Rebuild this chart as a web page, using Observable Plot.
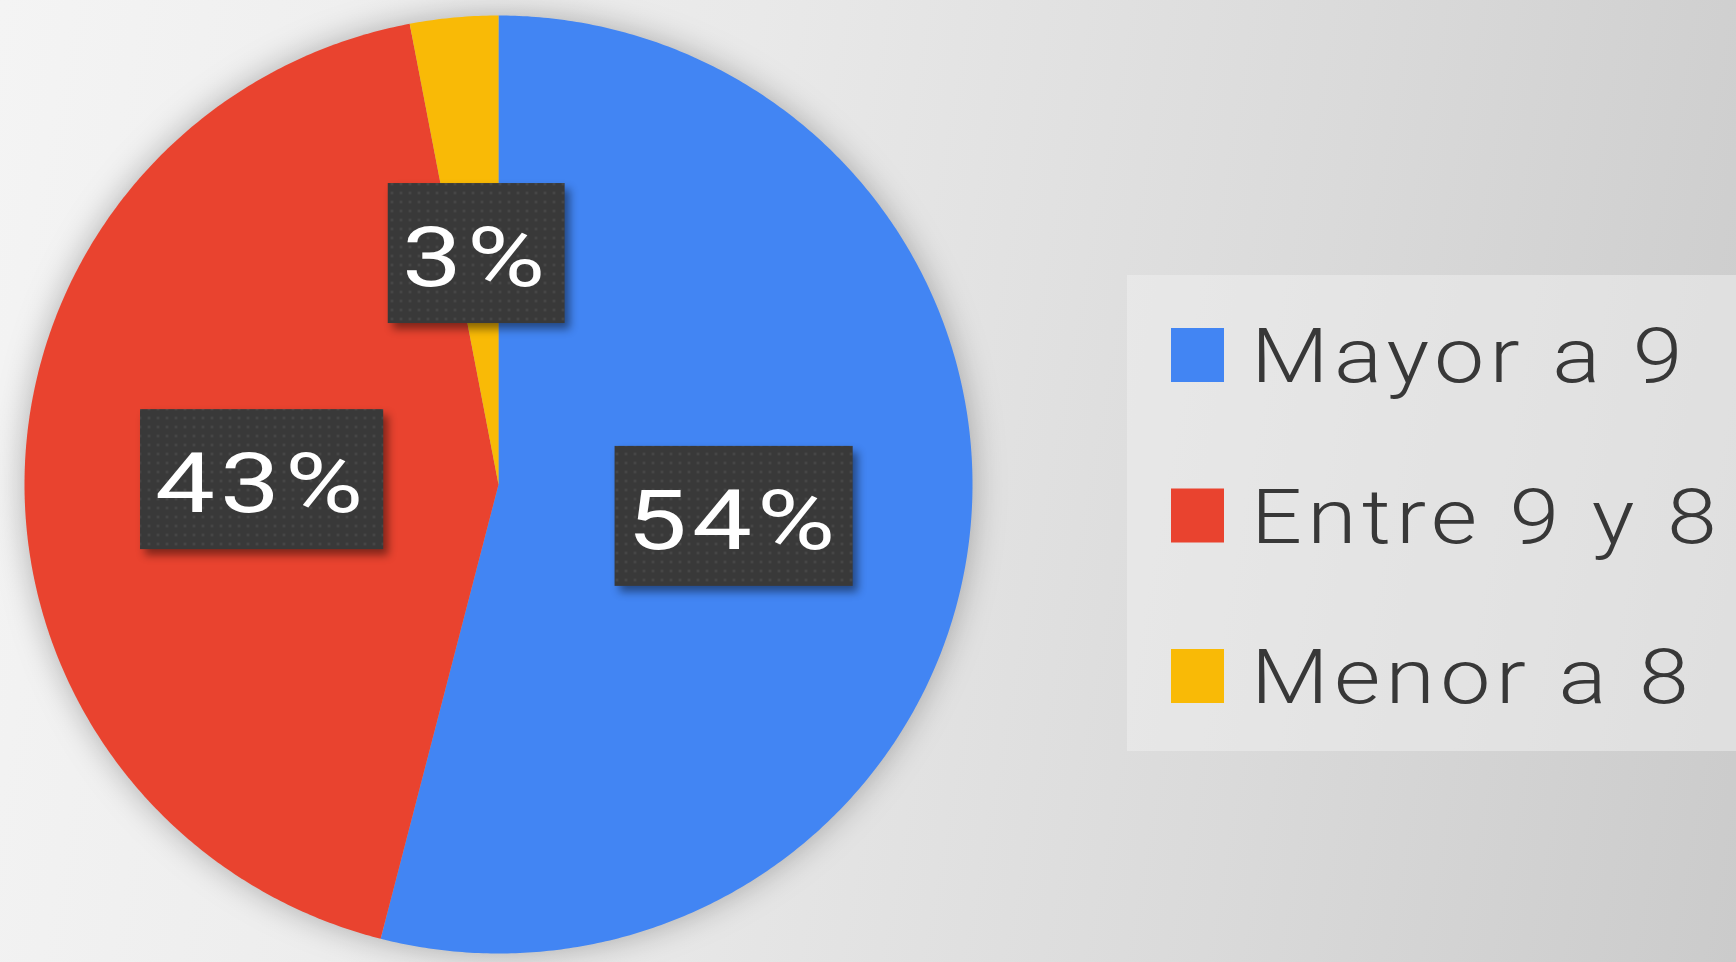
<!DOCTYPE html>
<html>
<head>
<meta charset="utf-8">
<script src="https://cdn.jsdelivr.net/npm/d3@7"></script>
<script src="https://cdn.jsdelivr.net/npm/@observablehq/plot@0.6"></script>
<style>
  html, body { margin: 0; padding: 0; }
  #stage {
    position: relative; width: 1736px; height: 962px; overflow: hidden;
    background: linear-gradient(100deg, #f4f4f4 0%, #e9e9e9 40%, #dadada 72%, #cbcbcb 100%);
    font-family: Roboto, "Open Sans", sans-serif;
  }
  #chart { position: absolute; left: 0; top: 0; }
  #legend { position: absolute; left: 0; top: 0; }
</style>
</head>
<body>
<div id="stage"><div id="chart"></div><svg id="legend" width="1736" height="962"></svg></div>
<script>
// ---- data ----
const categories = ["Mayor a 9", "Entre 9 y 8", "Menor a 8"];
const shares = [54, 43, 3];
const labels = ["54%", "43%", "3%"];
const palette = ["#4285f3", "#e9432f", "#f9ba06"];

const rows = categories.map((c, i) => ({category: c, share: shares[i], label: labels[i]}));
const arcs = d3.pie().sort(null).value(d => d.share)(rows);

// slice outlines (geometry derived from the pie angles)
const slicePts = [];
for (const a of arcs) {
  const n = Math.max(4, Math.ceil((a.endAngle - a.startAngle) / (Math.PI / 360)));
  slicePts.push({category: a.data.category, px: 0, py: 0});
  for (let k = 0; k <= n; k++) {
    const t = a.startAngle + (a.endAngle - a.startAngle) * k / n;
    slicePts.push({category: a.data.category, px: Math.sin(t), py: Math.cos(t)});
  }
  slicePts.push({category: a.data.category, px: 0, py: 0});
}
const labelPts = arcs.map(a => {
  const m = (a.startAngle + a.endAngle) / 2;
  return {category: a.data.category, label: a.data.label, px: 0.5 * Math.sin(m), py: 0.5 * Math.cos(m)};
});

const FONT = "Roboto";
const LABEL_SIZE = 84;
const LS = 4;          // letter spacing of labels
const SX = 1.27;       // horizontal stretch (wide geometric face)
const DY = 8;
const ctx = document.createElement("canvas").getContext("2d");
function inkWidth(s, size, ls, sx) {
  ctx.font = `${size}px ${FONT}`;
  const m = ctx.measureText(s);
  return ((m.actualBoundingBoxLeft + m.actualBoundingBoxRight) + ls * (s.length - 1)) * sx;
}

const chart = Plot.plot({
  width: 1736, height: 962,
  marginLeft: 24, marginRight: 764, marginTop: 15, marginBottom: 9,
  style: {background: "transparent", overflow: "visible"},
  x: {domain: [-1, 1], axis: null},
  y: {domain: [-1, 1], axis: null},
  color: {domain: categories, range: palette},
  marks: [
    Plot.line(slicePts, {x: "px", y: "py", z: "category", fill: "category", stroke: "none", curve: "linear"}),
    Plot.text(labelPts, {
      x: "px", y: "py", text: "label", fill: "white", fontSize: LABEL_SIZE, fontFamily: FONT, dy: DY,
      render(index, scales, values, dims, context, next) {
        const g = next(index, scales, values, dims, context);
        const boxes = d3.create("svg:g");
        for (const i of index) {
          const w = inkWidth(labelPts[i].label, LABEL_SIZE, LS, SX) + 42;
          const h = 140;
          boxes.append("rect")
            .attr("x", values.x[i] - w / 2).attr("y", values.y[i] + 2 - DY - h / 2)
            .attr("width", w).attr("height", h)
            .attr("fill", "url(#dots)")
            .style("filter", "drop-shadow(5px 6px 4px rgba(0,0,0,0.45))");
        }
        g.querySelectorAll("text").forEach(t => {
          const tr = t.getAttribute("transform") || "";
          t.setAttribute("transform", tr + ` scale(${SX},1)`);
        });
        g.insertBefore(boxes.node(), g.firstChild);
        g.setAttribute("letter-spacing", LS);
        return g;
      }
    })
  ]
});

// dotted texture for the label boxes and pie shadow
const svg = d3.select(chart);
const defs = svg.insert("defs", ":first-child");
const pat = defs.append("pattern").attr("id", "dots").attr("width", 9).attr("height", 9).attr("patternUnits", "userSpaceOnUse");
pat.append("rect").attr("width", 9).attr("height", 9).attr("fill", "#393939");
pat.append("circle").attr("cx", 4.5).attr("cy", 4.5).attr("r", 1.3).attr("fill", "#4b4b4b");
svg.select("g[aria-label='line']").style("filter", "drop-shadow(0px 0px 16px rgba(0,0,0,0.28))");
document.getElementById("chart").appendChild(chart);

// ---- legend ----
const leg = d3.select("#legend");
leg.append("rect").attr("x", 1127).attr("y", 275).attr("width", 620).attr("height", 476)
  .attr("fill", "rgba(238,238,238,0.55)");
categories.forEach((c, i) => {
  const y0 = 328 + i * 160.5;
  leg.append("rect").attr("x", 1171).attr("y", y0).attr("width", 53).attr("height", 54).attr("fill", palette[i]);
  leg.append("text").attr("transform", `translate(1251,${y0 + 54}) scale(1.18,1)`)
    .attr("font-family", FONT).attr("font-size", 76).attr("font-weight", 300).attr("letter-spacing", 4.5)
    .attr("fill", "#383838").text(c);
});
</script>
</body>
</html>
